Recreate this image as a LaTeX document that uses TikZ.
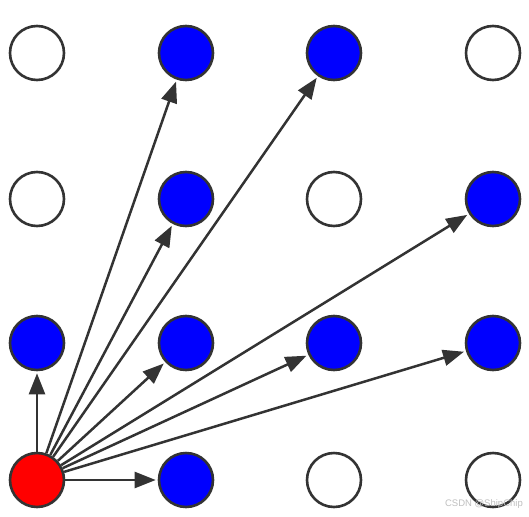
\documentclass[tikz,border=0pt]{standalone}
\usepackage{fontspec}
\setmainfont{Liberation Sans}
\usetikzlibrary{arrows.meta}
\definecolor{edgegray}{HTML}{333333}
\tikzset{
  dot/.style={circle, draw=edgegray, line width=2.6pt, minimum size=54pt, inner sep=0pt},
  emptydot/.style={dot, fill=white},
  bluedot/.style={dot, fill=blue},
  reddot/.style={dot, fill=red},
  link/.style={draw=edgegray, line width=2.5pt, -{Triangle[length=21pt,width=16pt]}, shorten >=2pt}
}
\begin{document}
\begin{tikzpicture}[x=1pt,y=-1pt]
\useasboundingbox (0,0) rectangle (529,516);
% row 1
\node[emptydot] (a1) at (37,53) {};
\node[bluedot]  (b1) at (186,53) {};
\node[bluedot]  (c1) at (334,53) {};
\node[emptydot] (d1) at (493,53) {};
% row 2
\node[emptydot] (a2) at (37,199) {};
\node[bluedot]  (b2) at (186,199) {};
\node[emptydot] (c2) at (334,199) {};
\node[bluedot]  (d2) at (493,199) {};
% row 3
\node[bluedot]  (a3) at (37,343) {};
\node[bluedot]  (b3) at (186,343) {};
\node[bluedot]  (c3) at (334,343) {};
\node[bluedot]  (d3) at (493,343) {};
% row 4
\node[reddot]   (a4) at (37,480) {};
\node[bluedot]  (b4) at (186,480) {};
\node[emptydot] (c4) at (334,480) {};
\node[emptydot] (d4) at (493,480) {};
% arrows
\foreach \t in {b1,c1,b2,d2,a3,b3,c3,d3,b4}
  \draw[link] (a4) -- (\t);
\node[text=black!25, font=\fontsize{9.5pt}{11pt}\selectfont, anchor=east, inner sep=0pt] (wm) at (523,504) {CSDN @ShipChip};
\end{tikzpicture}
\end{document}
